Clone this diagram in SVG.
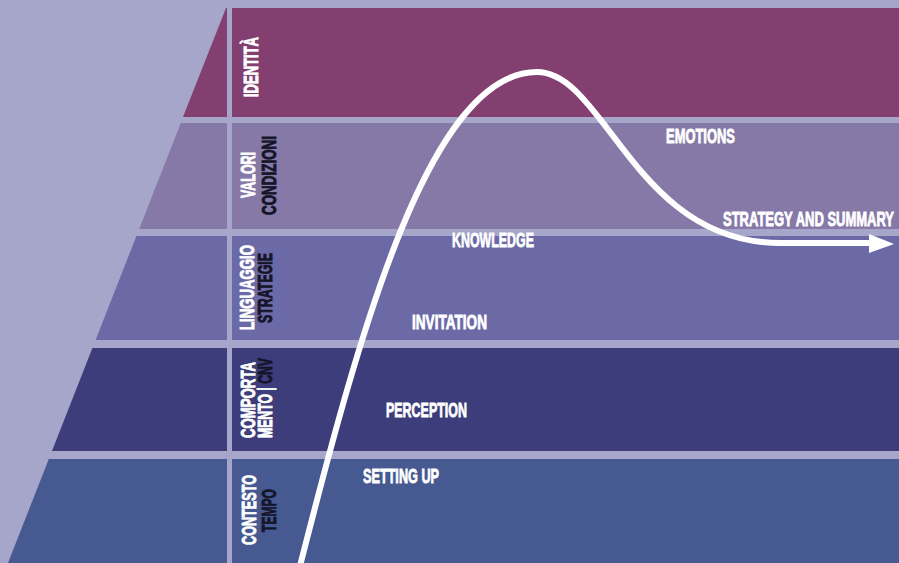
<svg xmlns="http://www.w3.org/2000/svg" width="899" height="563" viewBox="0 0 899 563">
<style>
.lbl{font-family:"Liberation Sans","DejaVu Sans",sans-serif;font-weight:bold;font-size:20.5px;text-anchor:middle;stroke-width:0.9px}
.w{fill:#ffffff;stroke:#ffffff}
.k{fill:#15152a;stroke:#15152a}
.stage{font-family:"Liberation Sans","DejaVu Sans",sans-serif;font-weight:bold;font-size:19.5px;fill:#ffffff;stroke:#ffffff;stroke-width:0.8px}
.b1{fill:#843f71}
.b2{fill:#8679a7}
.b3{fill:#6b6aa7}
.b4{fill:#3d3d7b}
.b5{fill:#465a91}
.curve{fill:none;stroke:#ffffff;stroke-width:6;stroke-linecap:butt}
</style>
<rect x="0" y="0" width="899" height="563" fill="#a6a6ca"/>

<g id="identita">
<polygon class="b1" points="226,8 227,8 227,117 183,117"/>
<rect class="b1" x="232" y="8" width="667" height="109"/>
<text class="lbl w" transform="translate(258,67) rotate(-90)" textLength="60" lengthAdjust="spacingAndGlyphs">IDENTITÀ</text>
</g>

<g id="valori">
<polygon class="b2" points="180.8,123 227,123 227,229 139.2,229"/>
<rect class="b2" x="232" y="123" width="667" height="106"/>
<text class="lbl w" transform="translate(255,175) rotate(-90)" textLength="46" lengthAdjust="spacingAndGlyphs">VALORI</text>
<text class="lbl k" transform="translate(276,175.5) rotate(-90)" textLength="79" lengthAdjust="spacingAndGlyphs">CONDIZIONI</text>
</g>

<g id="linguaggio">
<polygon class="b3" points="136.4,236 227,236 227,340 95.6,340"/>
<rect class="b3" x="232" y="236" width="667" height="104"/>
<text class="lbl w" transform="translate(254,287.5) rotate(-90)" textLength="85" lengthAdjust="spacingAndGlyphs">LINGUAGGIO</text>
<text class="lbl k" transform="translate(272,288) rotate(-90)" textLength="70" lengthAdjust="spacingAndGlyphs">STRATEGIE</text>
</g>

<g id="comportamento">
<polygon class="b4" points="92.4,348 227,348 227,451 52,451"/>
<rect class="b4" x="232" y="348" width="667" height="103"/>
<text class="lbl w" transform="translate(255,400) rotate(-90)" textLength="76" lengthAdjust="spacingAndGlyphs">COMPORTA</text>
<text class="lbl w" transform="translate(272,398) rotate(-90)" textLength="80" lengthAdjust="spacingAndGlyphs">MENTO | <tspan class="k">CNV</tspan></text>
</g>

<g id="contesto">
<polygon class="b5" points="48.8,459 227,459 227,563 8,563"/>
<rect class="b5" x="232" y="459" width="667" height="104"/>
<text class="lbl w" transform="translate(256,510) rotate(-90)" textLength="70" lengthAdjust="spacingAndGlyphs">CONTESTO</text>
<text class="lbl k" transform="translate(276,510.5) rotate(-90)" textLength="43" lengthAdjust="spacingAndGlyphs">TEMPO</text>
</g>

<g id="connectors">
<path class="curve" d="M300,566 C360,330 430,72 537,72 C605,72 635,243 780,243 L872,243"/>
<polygon points="869,234 894,244 869,253" fill="#ffffff"/>
</g>

<g id="stages">
<g id="setting-up"><text class="stage" x="363" y="483" textLength="76" lengthAdjust="spacingAndGlyphs">SETTING UP</text></g>
<g id="perception"><text class="stage" x="386" y="417" textLength="81" lengthAdjust="spacingAndGlyphs">PERCEPTION</text></g>
<g id="invitation"><text class="stage" x="412" y="329" textLength="75" lengthAdjust="spacingAndGlyphs">INVITATION</text></g>
<g id="knowledge"><text class="stage" x="452" y="247" textLength="82" lengthAdjust="spacingAndGlyphs">KNOWLEDGE</text></g>
<g id="emotions"><text class="stage" x="666" y="143" textLength="69" lengthAdjust="spacingAndGlyphs">EMOTIONS</text></g>
<g id="strategy"><text class="stage" x="723" y="226" textLength="171" lengthAdjust="spacingAndGlyphs">STRATEGY AND SUMMARY</text></g>
</g>
</svg>
